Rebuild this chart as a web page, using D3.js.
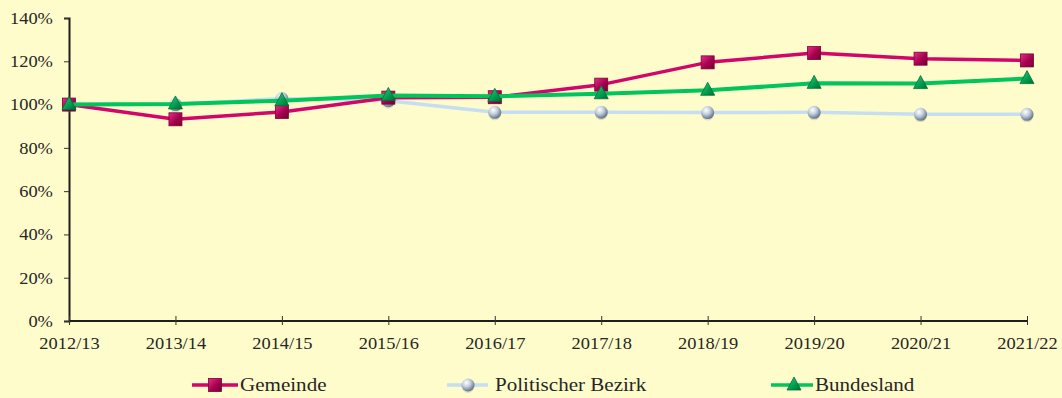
<!DOCTYPE html>
<html>
<head>
<meta charset="utf-8">
<script src="https://cdn.jsdelivr.net/npm/d3@7"></script>
<style>
  html, body { margin: 0; padding: 0; background: #FFFCCB; }
  svg { display: block; }
  text { font-family: "Liberation Serif", "Times New Roman", serif; fill: #262626; }
</style>
</head>
<body>
<svg id="chart" width="1062" height="398"></svg>
<script>
// School years shown on the x axis
const categories = ["2012/13", "2013/14", "2014/15", "2015/16", "2016/17",
                    "2017/18", "2018/19", "2019/20", "2020/21", "2021/22"];
// Index values in percent (2012/13 = 100 %)
const gemeinde   = [100, 93.2, 96.6, 103.2, 103.4, 109.2, 119.5, 123.8, 121.2, 120.4];
const bezirk     = [100, 100.0, 102.8, 101.8, 96.4, 96.5, 96.3, 96.4, 95.5, 95.5];
const bundesland = [100, 100.3, 101.8, 104.2, 103.8, 105.0, 106.6, 109.8, 109.7, 112.0];
// Tick values of the percentage axis
const yTicks = [0, 20, 40, 60, 80, 100, 120, 140];
const seriesNames = ["Gemeinde", "Politischer Bezirk", "Bundesland"];

const svg = d3.select("#chart");
const defs = svg.append("defs");

// Gradients for the 3D-looking markers
const sq = defs.append("linearGradient").attr("id", "gSquare")
  .attr("x1", 0).attr("y1", 0).attr("x2", 1).attr("y2", 1);
sq.append("stop").attr("offset", "0%").attr("stop-color", "#E0308A");
sq.append("stop").attr("offset", "55%").attr("stop-color", "#A8004E");
sq.append("stop").attr("offset", "100%").attr("stop-color", "#6E0032");

const tri = defs.append("linearGradient").attr("id", "gTri")
  .attr("x1", 0).attr("y1", 0).attr("x2", 1).attr("y2", 1);
tri.append("stop").attr("offset", "0%").attr("stop-color", "#30D080");
tri.append("stop").attr("offset", "60%").attr("stop-color", "#009A4C");
tri.append("stop").attr("offset", "100%").attr("stop-color", "#006A34");

const sph = defs.append("radialGradient").attr("id", "gSphere")
  .attr("cx", "38%").attr("cy", "32%").attr("r", "70%");
sph.append("stop").attr("offset", "0%").attr("stop-color", "#FFFFFF");
sph.append("stop").attr("offset", "45%").attr("stop-color", "#C4D0DC");
sph.append("stop").attr("offset", "100%").attr("stop-color", "#5E6F82");

// Scales
const x = d3.scalePoint().domain(categories).range([69, 1027]);
const y = d3.scaleLinear().domain([0, 140]).range([321, 18]);

const textStretch = "scale(1.15,1)";

// Y axis
const yAxis = svg.append("g").attr("transform", "translate(69,0)")
  .call(d3.axisLeft(y).tickValues(yTicks).tickFormat(d => d + "%").tickSize(5).tickPadding(0));
yAxis.select(".domain").attr("stroke", "#1E1E1E").attr("stroke-width", 2);
yAxis.selectAll(".tick line").attr("stroke", "#333").attr("stroke-width", 1);
yAxis.selectAll(".tick text")
  .attr("x", -14).attr("dy", "0.33em")
  .attr("transform", textStretch)
  .style("font-size", "16px");

// X axis with ticks crossing the axis line
const xAxis = svg.append("g").attr("transform", "translate(0,321)")
  .call(d3.axisBottom(x).tickSize(4).tickPadding(0));
xAxis.select(".domain").attr("stroke", "#1E1E1E").attr("stroke-width", 2)
  .attr("d", `M${x.range()[0]},0H${x.range()[1]}`);
xAxis.selectAll(".tick line").attr("y1", -5).attr("y2", 4)
  .attr("stroke", "#333").attr("stroke-width", 1);
xAxis.selectAll(".tick text")
  .attr("y", 28).attr("dy", 0)
  .attr("transform", textStretch)
  .style("font-size", "16px");

// Series lines and markers
const line = d3.line().x((d, i) => x(categories[i])).y(d => y(d));

function drawSquare(g, cx, cy) {
  g.append("rect").attr("x", cx - 6.5).attr("y", cy - 6.5)
    .attr("width", 13).attr("height", 13)
    .attr("fill", "url(#gSquare)").attr("stroke", "#7A0038").attr("stroke-width", 0.8);
}
function drawTriangle(g, cx, cy) {
  g.append("path")
    .attr("d", `M${cx},${cy - 8}L${cx + 7},${cy + 5}L${cx - 7},${cy + 5}Z`)
    .attr("fill", "url(#gTri)").attr("stroke", "#00703A").attr("stroke-width", 0.8);
}
function drawSphere(g, cx, cy) {
  g.append("circle").attr("cx", cx).attr("cy", cy + 1.5).attr("r", 6.5)
    .attr("fill", "#9AA9B8").attr("opacity", 0.35);
  g.append("circle").attr("cx", cx).attr("cy", cy).attr("r", 6.5)
    .attr("fill", "url(#gSphere)");
}

const series = [
  { name: seriesNames[1], values: bezirk,     color: "#C6DEF1", width: 3.5, marker: drawSphere },
  { name: seriesNames[0], values: gemeinde,   color: "#D1056A", width: 3.5, marker: drawSquare },
  { name: seriesNames[2], values: bundesland, color: "#00C45C", width: 4,   marker: drawTriangle }
];

const plot = svg.append("g");
series.forEach(s => {
  const g = plot.append("g");
  g.append("path").datum(s.values)
    .attr("d", line).attr("fill", "none")
    .attr("stroke", s.color).attr("stroke-width", s.width)
    .attr("stroke-linejoin", "round");
  s.values.forEach((v, i) => s.marker(g, x(categories[i]), y(v)));
});

// Legend
const legendItems = [
  { s: series[1], x0: 192, x1: 238, mx: 215, tx: 240 },
  { s: series[0], x0: 447, x1: 488, mx: 468, tx: 495 },
  { s: series[2], x0: 771, x1: 813, mx: 794, tx: 815 }
];
const legend = svg.append("g");
const ly = 385;
legendItems.forEach(it => {
  const g = legend.append("g");
  g.append("line").attr("x1", it.x0).attr("x2", it.x1).attr("y1", ly).attr("y2", ly)
    .attr("stroke", it.s.color).attr("stroke-width", 3.5);
  it.s.marker(g, it.mx, ly);
  g.append("text")
    .attr("transform", `translate(${it.tx},${ly + 6}) scale(1.17,1)`)
    .style("font-size", "18px")
    .text(it.s.name);
});
</script>
</body>
</html>
